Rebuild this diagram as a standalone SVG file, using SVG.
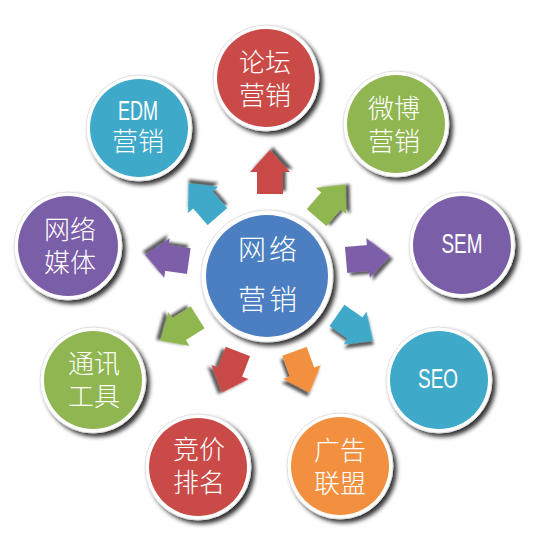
<svg xmlns="http://www.w3.org/2000/svg" xmlns:xlink="http://www.w3.org/1999/xlink" width="538" height="539" viewBox="0 0 538 539">
<defs>
<filter id="sh" x="-30%" y="-30%" width="170%" height="170%">
<feDropShadow dx="3.5" dy="3.5" stdDeviation="2" flood-color="#000" flood-opacity="0.8"/>
</filter>
<filter id="ash" x="-40%" y="-40%" width="190%" height="190%">
<feDropShadow dx="3" dy="3" stdDeviation="1.8" flood-color="#000" flood-opacity="0.65"/>
</filter>
<path id="arr" d="M-22,-13 L0,-13 L0,-20 L22,0 L0,20 L0,13 L-22,13 Z"/>
</defs>
<style>
.ring{fill:#fff;stroke:#d8d8d8;stroke-width:0.8;filter:url(#sh)}
.red{fill:#c94a46}.green{fill:#8fb650}.purple{fill:#7b5ea8}.cyan{fill:#3fa9c9}.orange{fill:#f3903f}.blue{fill:#4b7fc2}
.cn{font-family:"Noto Sans CJK SC","Noto Sans CJK TC",sans-serif;font-weight:300;font-size:26px;fill:#fff;text-anchor:middle}
.big{font-size:28px;letter-spacing:3px}
.en{font-family:"Liberation Sans",Arial,sans-serif;font-size:27px;fill:#fff;text-anchor:middle}
.a{filter:url(#ash)}
</style>
<rect width="538" height="539" fill="#fff"/>
<g id="connectors">
<use xlink:href="#arr" class="a red" transform="translate(270,172) rotate(-90)"/>
<use xlink:href="#arr" class="a green" transform="translate(331,201) rotate(-49)"/>
<use xlink:href="#arr" class="a purple" transform="translate(368,258) rotate(-5)"/>
<use xlink:href="#arr" class="a cyan" transform="translate(355,328) rotate(35)"/>
<use xlink:href="#arr" class="a orange" transform="translate(302,372) rotate(70)"/>
<use xlink:href="#arr" class="a red" transform="translate(230,372) rotate(111)"/>
<use xlink:href="#arr" class="a green" transform="translate(179,329) rotate(148)"/>
<use xlink:href="#arr" class="a purple" transform="translate(167,258) rotate(188)"/>
<use xlink:href="#arr" class="a cyan" transform="translate(203,200) rotate(229)"/>
</g>
<g id="center">
<circle class="ring" cx="267" cy="276" r="66"/>
<circle class="blue" cx="267" cy="276" r="61"/>
<text class="cn big" x="269" y="260"><tspan x="269">网络</tspan><tspan x="269" dy="50">营销</tspan></text>
</g>
<g id="luntan">
<circle class="ring" cx="266" cy="78" r="53"/>
<circle class="red" cx="266" cy="78" r="49"/>
<text class="cn" y="72"><tspan x="265">论坛</tspan><tspan x="265" dy="33">营销</tspan></text>
</g>
<g id="weibo">
<circle class="ring" cx="396" cy="124" r="53"/>
<circle class="green" cx="396" cy="124" r="49"/>
<text class="cn" y="118"><tspan x="394">微博</tspan><tspan x="394" dy="33">营销</tspan></text>
</g>
<g id="sem">
<circle class="ring" cx="462" cy="245" r="53"/>
<circle class="purple" cx="462" cy="245" r="49"/>
<text class="en" x="462" y="253" textLength="41" lengthAdjust="spacingAndGlyphs">SEM</text>
</g>
<g id="seo">
<circle class="ring" cx="439" cy="380" r="53"/>
<circle class="cyan" cx="439" cy="380" r="49"/>
<text class="en" x="438" y="388" textLength="40" lengthAdjust="spacingAndGlyphs">SEO</text>
</g>
<g id="guanggao">
<circle class="ring" cx="340" cy="466" r="53"/>
<circle class="orange" cx="340" cy="466" r="49"/>
<text class="cn" y="460"><tspan x="340">广告</tspan><tspan x="340" dy="33">联盟</tspan></text>
</g>
<g id="jingjia">
<circle class="ring" cx="198" cy="467" r="53"/>
<circle class="red" cx="198" cy="467" r="49"/>
<text class="cn" y="459"><tspan x="199">竞价</tspan><tspan x="199" dy="33">排名</tspan></text>
</g>
<g id="tongxun">
<circle class="ring" cx="93" cy="380" r="53"/>
<circle class="green" cx="93" cy="380" r="49"/>
<text class="cn" y="373"><tspan x="94">通讯</tspan><tspan x="94" dy="33">工具</tspan></text>
</g>
<g id="meiti">
<circle class="ring" cx="68" cy="246" r="54"/>
<circle class="purple" cx="68" cy="246" r="50"/>
<text class="cn" y="239"><tspan x="70">网络</tspan><tspan x="70" dy="33">媒体</tspan></text>
</g>
<g id="edm">
<circle class="ring" cx="139" cy="128" r="53"/>
<circle class="cyan" cx="139" cy="128" r="49"/>
<text class="en" x="138" y="120" textLength="40" lengthAdjust="spacingAndGlyphs">EDM</text>
<text class="cn" x="138" y="151">营销</text>
</g>
</svg>
